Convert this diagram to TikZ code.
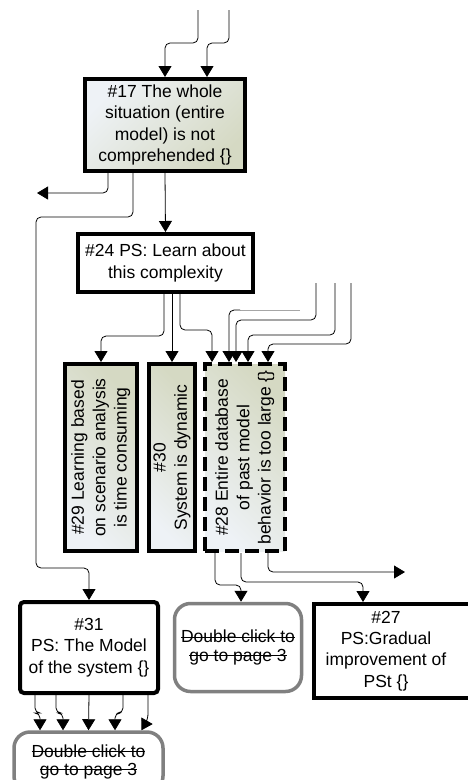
\documentclass[tikz,border=0pt]{standalone}
\usepackage{fontspec}
\setmainfont{Liberation Sans}
\usepackage{tikz}
\usetikzlibrary{arrows.meta, positioning, calc}

\definecolor{probLight}{HTML}{EEF2F6}
\definecolor{probDark}{HTML}{D5D9C3}
\definecolor{linkGrey}{HTML}{808080}

% struck-out text
\newsavebox{\strikebox}
\newcommand{\strikeline}[1]{\sbox{\strikebox}{#1}\rlap{\rule[0.3em]{\wd\strikebox}{1.1pt}}\usebox{\strikebox}}

\begin{document}
\begin{tikzpicture}[
    x=1pt, y=-1pt,
    % base style
    every node/.style={font=\fontsize{17.5}{21.3}\selectfont, align=center, inner sep=2pt},
    % problem boxes (shaded)
    problem/.style={draw, line width=4pt, top color=probLight, bottom color=probDark, shading angle=45},
    problemup/.style={problem, shading angle=135},
    % solution boxes (white)
    solution/.style={draw, line width=4pt, fill=white},
    % links to other pages
    pagelink/.style={draw=linkGrey, line width=3.5pt, rounded corners=16pt, fill=white, font=\fontsize{17.5}{18.3}\selectfont},
    conn/.style={draw, line width=0.8pt, rounded corners=5pt, -{Triangle[length=11pt,width=13pt]}},
    ghost/.style={draw=black!35, line width=0.8pt}
]
\useasboundingbox (0,0) rectangle (467,780);

% boxes
\node[problem, minimum width=160, minimum height=92] (n17) at (165,125)
    {\#17 The whole\\situation (entire\\model) is not\\comprehended \{\}};
\node[solution, minimum width=175, minimum height=58] (n24) at (165.5,263)
    {\#24 PS: Learn about\\this complexity};
\node[problemup, minimum width=72, minimum height=187] (n29) at (101,457.5)
    {\rotatebox{90}{\begin{tabular}{@{}c@{}}\#29 Learning based\\on scenario analysis\\is time consuming\end{tabular}}};
\node[problemup, minimum width=46, minimum height=187] (n30) at (172,457.5)
    {\rotatebox{90}{\begin{tabular}{@{}c@{}}\#30\\System is dynamic\end{tabular}}};
\node[problemup, dash pattern=on 14pt off 6pt, minimum width=80, minimum height=187] (n28) at (245,457.5)
    {\rotatebox{90}{\begin{tabular}{@{}c@{}}\#28 Entire database\\of past model\\behavior is too large \{\}\end{tabular}}};
\node[solution, rounded corners=4pt, minimum width=138, minimum height=91] (n31) at (89,647.5)
    {\#31\\PS: The Model\\of the system \{\}};
\node[pagelink, minimum width=127, minimum height=88] (dc1) at (238,647.5)
    {\strikeline{Double click to}\\\strikeline{go to page 3}};
\node[solution, minimum width=170, minimum height=94] (n27) at (399,651)
    {\hspace*{-26pt}\begin{tabular}{@{}c@{}}\#27\\PS:Gradual\\improvement of\\PSt \{\}\end{tabular}};
\node[pagelink, minimum width=149, minimum height=60] (dc2) at (88.5,762)
    {\strikeline{Double click to}\\\strikeline{go to page 3}};

% free ends
\coordinate (t1) at (198,10);
\coordinate (t2) at (229,10);
\coordinate (west1) at (37,193);
\coordinate (r1) at (316,283);
\coordinate (r2) at (335,283);
\coordinate (r3) at (351,283);
\coordinate (g1) at (300,310);
\coordinate (g2) at (240,310);
\coordinate (east1) at (405,572);

% into #17
\draw[conn] (t1) -- (198,43) -| (n17.north);
\draw[conn] (t2) -- (229,43) -| ([xshift=42pt]n17.north);

% out of #17
\draw[conn] ([xshift=-57pt]n17.south) |- (west1);
\draw[conn] ([xshift=-32pt]n17.south) -- ++(0,44) -| (36,568) -| (n31.north);
\draw[conn] (n17.south) -- (n24.north);

% out of #24
\draw[conn] ([xshift=-1.5pt]n24.south) -- ++(0,42) -| (n29.north);
\draw[conn] (n30.north |- n24.south) -- (n30.north);
\draw[conn] ([xshift=14.5pt]n24.south) -- ++(0,36) -| ([xshift=-33pt]n28.north);

% into #28 from the right
\draw[ghost] (g1) -- (g2);
\draw[conn] (g2) -| ([xshift=-16pt]n28.north);
\draw[conn] (r1) -- ++(0,37) -| ([xshift=-9pt]n28.north);
\draw[conn] (r2) -- ++(0,52) -| ([xshift=3pt]n28.north);
\draw[conn] (r3) -- ++(0,61) -| ([xshift=23pt]n28.north);

% out of #28
\draw[conn] ([xshift=-30pt]n28.south) -- ++(0,32) -| ([xshift=3pt]dc1.north);
\draw[conn] ([xshift=-4pt]n28.south) -- ++(0,29) -| ([xshift=-36pt]n27.north);
\draw[conn] ([xshift=23pt]n28.south) |- (east1);

% out of #31
\draw[conn] ([xshift=-54pt]n31.south) -- ++(0,18) -| ([xshift=-48.5pt]dc2.north);
\draw[conn] ([xshift=-33pt]n31.south) -- ++(0,18) -| ([xshift=-25.5pt]dc2.north);
\draw[conn] (n31.south) -- (dc2.north);
\draw[conn] ([xshift=34pt]n31.south) -- ++(0,18) -| ([xshift=26.5pt]dc2.north);
\draw[conn] ([xshift=59pt]n31.south) -- ++(0,24) -- ([xshift=53pt]dc2.north);

\end{tikzpicture}
\end{document}
